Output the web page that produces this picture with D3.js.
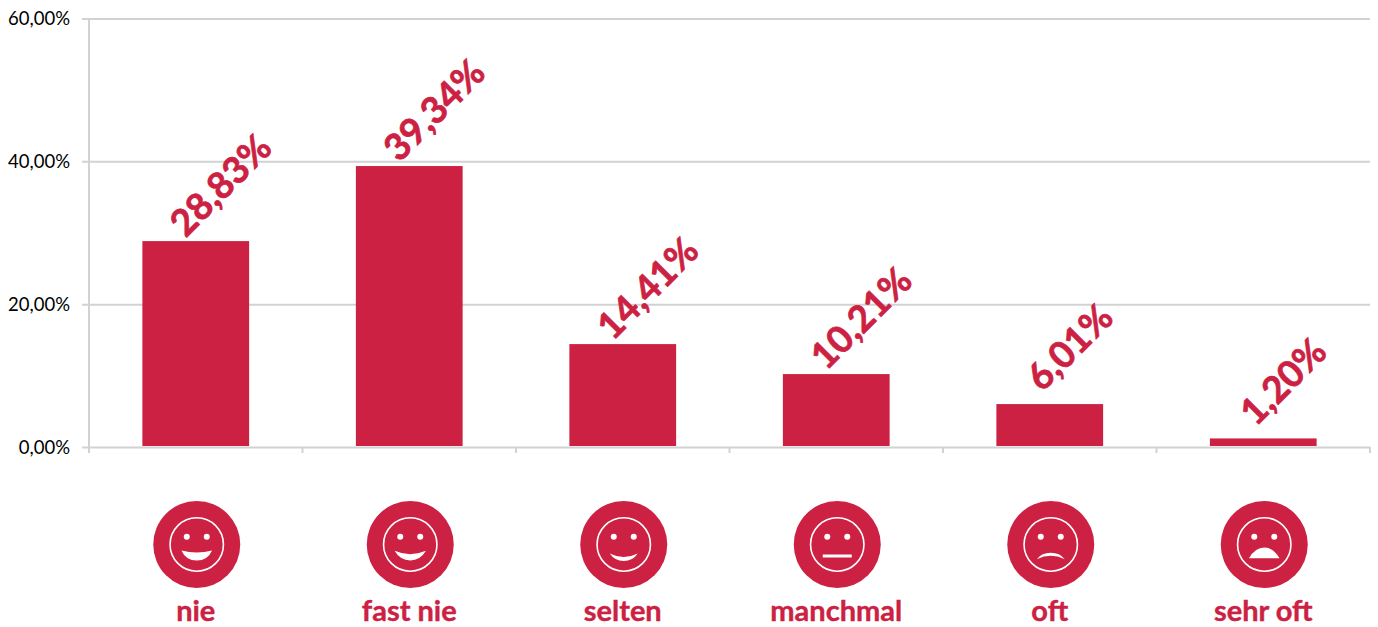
<!DOCTYPE html>
<html>
<head>
<meta charset="utf-8">
<script src="https://cdn.jsdelivr.net/npm/d3@7"></script>
<style>
  html, body { margin: 0; padding: 0; background: #fff; }
  svg { display: block; }
  text { font-family: Lato, "Open Sans", sans-serif; }
</style>
</head>
<body>
<div id="chart"></div>
<script>
var categories = ['nie', 'fast nie', 'selten', 'manchmal', 'oft', 'sehr oft'];
var values = [28.83, 39.34, 14.41, 10.21, 6.01, 1.20];
var faces = ['laugh', 'grin', 'smile', 'flat', 'sad', 'upset'];
var yTicks = [0, 20, 40, 60];

var width = 1378,
    height = 627,
    red = '#cc2142',
    grey = '#d2d2d2';

var margin = {top: 18.5, right: 8, bottom: 180, left: 89},
    chartWidth = width - margin.left - margin.right,
    chartHeight = height - margin.top - margin.bottom;

var fmt = function (d) { return d.toFixed(2).replace('.', ',') + '%'; };

var svg = d3.select('#chart').append('svg')
  .attr('width', width)
  .attr('height', height);

var chart = svg.append('g')
  .attr('transform', 'translate(' + margin.left + ',' + margin.top + ')');

var x = d3.scaleBand()
  .domain(categories)
  .range([0, chartWidth])
  .paddingInner(0.5)
  .paddingOuter(0.25);

var y = d3.scaleLinear()
  .domain([0, 60])
  .range([chartHeight, 0]);

// gridlines come from the axis ticks, they also stick out left of the axis
var yAxis = d3.axisLeft(y)
  .tickValues(yTicks)
  .tickSize(-chartWidth)
  .tickFormat(fmt);

var yG = chart.append('g').call(yAxis);
yG.select('.domain').remove();
yG.selectAll('.tick line')
  .attr('x1', -7)
  .attr('stroke', grey)
  .attr('stroke-width', 2);
yG.selectAll('.tick text')
  .attr('x', -19)
  .attr('dy', '0.34em')
  .attr('fill', '#000')
  .style('font-family', 'Lato, "Open Sans", sans-serif')
  .style('font-size', '18.5px');

chart.append('line')
  .attr('y1', 0)
  .attr('y2', chartHeight + 6)
  .attr('stroke', grey)
  .attr('stroke-width', 2);

// x ticks sit on the band edges
var edges = categories.map(function (d) { return x(d) + x.bandwidth() * 1.5; });
chart.selectAll('.xtick')
  .data(edges)
  .enter().append('line')
  .attr('class', 'xtick')
  .attr('x1', function (d) { return d; })
  .attr('x2', function (d) { return d; })
  .attr('y1', chartHeight)
  .attr('y2', chartHeight + 6)
  .attr('stroke', grey)
  .attr('stroke-width', 2);

var rows = categories.map(function (c, i) {
  return {name: c, value: values[i], face: faces[i]};
});

chart.selectAll('.bar')
  .data(rows)
  .enter().append('rect')
  .attr('class', 'bar')
  .attr('x', function (d) { return x(d.name); })
  .attr('y', function (d) { return y(d.value); })
  .attr('width', x.bandwidth())
  .attr('height', function (d) { return chartHeight - y(d.value) - 1; })
  .attr('fill', red);

chart.selectAll('.value')
  .data(rows)
  .enter().append('text')
  .attr('class', 'value')
  .attr('transform', function (d) {
    // shorter labels sit a bit closer to the bar centre
    var cx = x(d.name) + x.bandwidth() / 2 + (d.value < 10 ? 20 : 25),
        cy = y(d.value) - (d.value < 10 ? 57 : 56);
    return 'translate(' + cx + ',' + cy + ') rotate(-45)';
  })
  .attr('text-anchor', 'middle')
  .attr('dy', '0.35em')
  .attr('fill', red)
  .attr('stroke', red)
  .attr('stroke-width', 0.7)
  .style('font-size', '37px')
  .style('font-weight', 700)
  .text(function (d) { return fmt(d.value); });

// mouth outlines for the smileys, relative to the face centre
var mouths = {
  laugh: 'M-15.3,6 Q0,10 15.3,6 Q11,16 0,16 Q-11,16 -15.3,6Z',
  grin: 'M-15.7,6.3 Q0,13 15.7,6.3 Q10,16 0,16 Q-10,16 -15.7,6.3Z',
  smile: 'M-14,9 Q0,16 14,9 Q9,16.5 0,16.5 Q-9,16.5 -14,9Z',
  flat: 'M-14.5,10 H14.5 V13 H-14.5Z',
  sad: 'M-14,14.7 Q-9,8.3 0,8.3 Q9,8.3 14,14.7 Q0,8 -14,14.7Z',
  upset: 'M-15.3,13.7 Q-9,3 0,3 Q9,3 15.3,13.7Z'
};

var icons = svg.selectAll('.icon')
  .data(rows)
  .enter().append('g')
  .attr('class', 'icon')
  .attr('transform', function (d) {
    return 'translate(' + (margin.left + x(d.name) + x.bandwidth() / 2 + 1) + ',544.5)';
  });

icons.append('circle').attr('r', 43.5).attr('fill', red);
icons.append('circle')
  .attr('r', 26.7)
  .attr('fill', 'none')
  .attr('stroke', '#fff')
  .attr('stroke-width', 1.6);
icons.selectAll('.eye')
  .data([-10, 10])
  .enter().append('circle')
  .attr('class', 'eye')
  .attr('cx', function (d) { return d; })
  .attr('cy', -7.7)
  .attr('r', 3)
  .attr('fill', '#fff');
icons.append('path')
  .attr('d', function (d) { return mouths[d.face]; })
  .attr('fill', '#fff');

svg.selectAll('.cat')
  .data(rows)
  .enter().append('text')
  .attr('class', 'cat')
  .attr('x', function (d) { return margin.left + x(d.name) + x.bandwidth() / 2; })
  .attr('y', 621)
  .attr('text-anchor', 'middle')
  .attr('fill', red)
  .attr('stroke', red)
  .attr('stroke-width', 0.4)
  .style('font-size', '29px')
  .style('font-weight', 700)
  .text(function (d) { return d.name; });
</script>
</body>
</html>
